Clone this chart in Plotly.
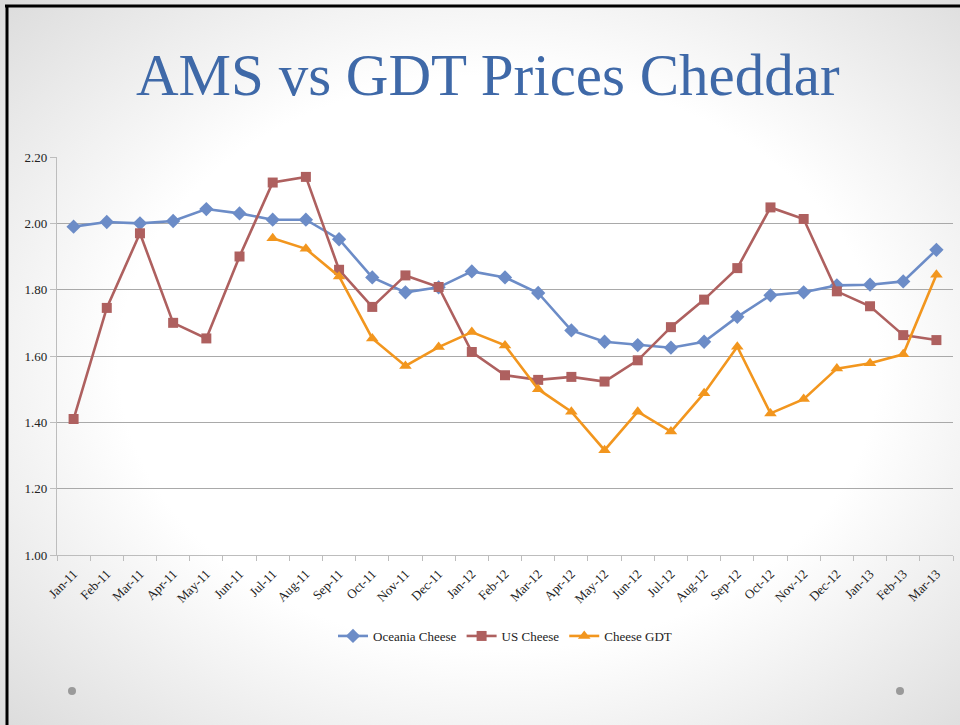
import base64
import plotly.graph_objects as go

months = ["Jan-11", "Feb-11", "Mar-11", "Apr-11", "May-11", "Jun-11", "Jul-11", "Aug-11", "Sep-11",
          "Oct-11", "Nov-11", "Dec-11", "Jan-12", "Feb-12", "Mar-12", "Apr-12", "May-12", "Jun-12",
          "Jul-12", "Aug-12", "Sep-12", "Oct-12", "Nov-12", "Dec-12", "Jan-13", "Feb-13", "Mar-13"]

oceania_cheese = [1.99, 2.004, 2.00, 2.007, 2.043, 2.03, 2.011, 2.011, 1.952, 1.837, 1.792, 1.807,
                  1.855, 1.837, 1.79, 1.677, 1.643, 1.633, 1.625, 1.643, 1.718, 1.783, 1.792, 1.813,
                  1.815, 1.825, 1.92]

us_cheese = [1.41, 1.745, 1.97, 1.70, 1.653, 1.90, 2.123, 2.14, 1.86, 1.748, 1.843, 1.808,
             1.612, 1.542, 1.528, 1.537, 1.523, 1.587, 1.687, 1.77, 1.865, 2.048, 2.013, 1.795,
             1.75, 1.663, 1.648]

cheese_gdt = [None, None, None, None, None, None, 1.955, 1.923, 1.84, 1.653, 1.57, 1.627,
              1.672, 1.632, 1.50, 1.432, 1.316, 1.432, 1.372, 1.488, 1.628, 1.427, 1.47, 1.562,
              1.578, 1.605, 1.845]

y_ticks = [1.00, 1.20, 1.40, 1.60, 1.80, 2.00, 2.20]

W, H = 960, 725
L, R, T, B = 57, 7, 157, 170
PW, PH = W - L - R, H - T - B

def px_x(px):
    return (px - L) / PW

def px_y(py):
    return 1 + (T - py) / PH

svg = f'''<svg xmlns="http://www.w3.org/2000/svg" width="{W}" height="{H}" viewBox="0 0 {W} {H}">
<defs><radialGradient id="g" cx="52%" cy="50%" r="72%">
<stop offset="0" stop-color="#ffffff"/><stop offset="0.55" stop-color="#ffffff"/>
<stop offset="1" stop-color="#dcdcdc"/></radialGradient></defs>
<rect width="{W}" height="{H}" fill="url(#g)"/></svg>'''
bg_uri = "data:image/svg+xml;base64," + base64.b64encode(svg.encode()).decode()

serif = "Liberation Serif"

fig = go.Figure()
fig.add_trace(go.Scatter(x=months, y=oceania_cheese, name="Oceania Cheese", mode="lines+markers",
                         line=dict(color="#6C8CC7", width=2.6),
                         marker=dict(symbol="diamond", size=11, color="#6C8CC7")))
fig.add_trace(go.Scatter(x=months, y=us_cheese, name="US Cheese", mode="lines+markers",
                         line=dict(color="#AE605F", width=2.6),
                         marker=dict(symbol="square", size=10, color="#AE605F")))
fig.add_trace(go.Scatter(x=months, y=cheese_gdt, name="Cheese GDT", mode="lines+markers",
                         line=dict(color="#F2961E", width=2.6),
                         marker=dict(symbol="triangle-up", size=11, color="#F2961E")))

fig.update_layout(
    width=W, height=H,
    margin=dict(l=L, r=R, t=T, b=B, autoexpand=False),
    paper_bgcolor="white", plot_bgcolor="rgba(0,0,0,0)",
    font=dict(family=serif, size=12, color="#222"),
    showlegend=True,
    legend=dict(orientation="h", x=0.5, xanchor="center", y=px_y(636), yanchor="middle",
                font=dict(family=serif, size=13, color="#222"), bgcolor="rgba(0,0,0,0)",
                itemwidth=30, tracegroupgap=0),
    xaxis=dict(type="category", range=[-0.5, len(months) - 0.5], tickangle=-45,
               showgrid=False, showline=True,
               linecolor="#BDBDBD", linewidth=1.2, ticks="outside", ticklen=5,
               tickcolor="#BDBDBD", tickson="boundaries", ticklabelstandoff=5,
               tickfont=dict(family=serif, size=13, color="#222")),
    yaxis=dict(range=[1.0, 2.2], tickvals=y_ticks, tickformat=".2f", showgrid=True,
               gridcolor="#A9A9A9", gridwidth=1.2, showline=True, linecolor="#BDBDBD",
               linewidth=1.2, ticks="outside", ticklen=6, tickcolor="#BDBDBD",
               zeroline=False, tickfont=dict(family=serif, size=13, color="#222")),
    images=[dict(source=bg_uri, xref="paper", yref="paper", x=px_x(0), y=px_y(0),
                 sizex=W / PW, sizey=H / PH, sizing="stretch", layer="below",
                 xanchor="left", yanchor="top")],
    annotations=[
        dict(text="AMS vs GDT Prices Cheddar", xref="paper", yref="paper",
             x=px_x(488), y=px_y(75), xanchor="center", yanchor="middle", showarrow=False,
             font=dict(family=serif, size=59, color="#3F69A8")),
    ],
    shapes=[
        dict(type="line", xref="paper", yref="paper", x0=px_x(5), x1=px_x(960),
             y0=px_y(6), y1=px_y(6), line=dict(color="black", width=3)),
        dict(type="line", xref="paper", yref="paper", x0=px_x(7), x1=px_x(7),
             y0=px_y(5), y1=px_y(725), line=dict(color="black", width=3)),
        dict(type="circle", xref="paper", yref="paper", x0=px_x(68), x1=px_x(76),
             y0=px_y(687), y1=px_y(695), fillcolor="#9A9A9A", line=dict(width=0)),
        dict(type="circle", xref="paper", yref="paper", x0=px_x(896), x1=px_x(904),
             y0=px_y(687), y1=px_y(695), fillcolor="#9A9A9A", line=dict(width=0)),
    ],
)

fig.write_html("out.html", config={"displayModeBar": False},
               post_script="document.body.style.margin='0px';document.body.style.overflow='hidden';")
